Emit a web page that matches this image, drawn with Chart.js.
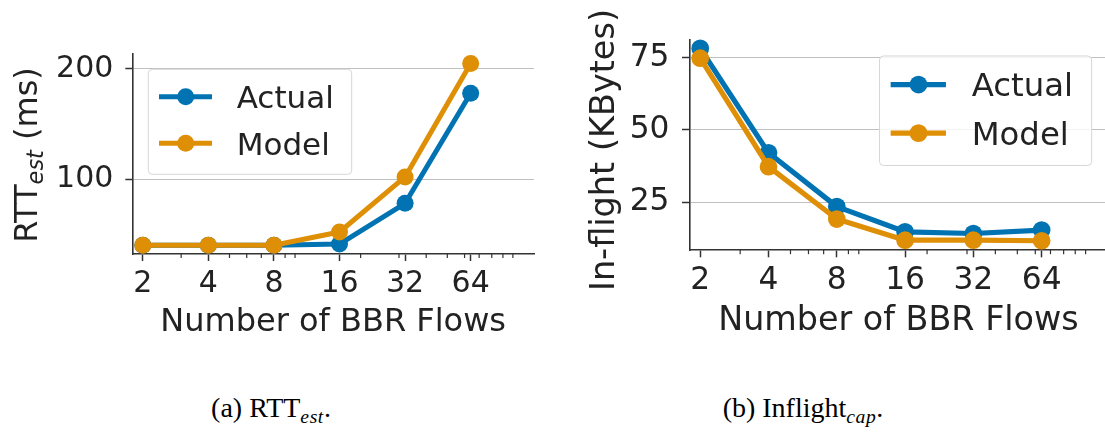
<!DOCTYPE html>
<html>
<head>
<meta charset="utf-8">
<script src="https://cdn.jsdelivr.net/npm/chart.js@4.4.0/dist/chart.umd.min.js"></script>
<style>
  html, body { margin: 0; padding: 0; background: #fff; overflow: hidden; width: 1105px; height: 441px; }
  .plot { position: absolute; top: 0; width: 560px; height: 360px; }
  #wrapA { left: 0; }
  #wrapB { left: 560px; }
  .caption { position: absolute; font-family: "Liberation Serif", serif; font-size: 28px; color: #000;
             white-space: nowrap; transform: translateX(-50%); line-height: 1; }
  .caption sub { font-style: italic; font-size: 70%; vertical-align: -0.3em; letter-spacing: 0.6px; }
</style>
</head>
<body>
<div id="wrapA" class="plot"><canvas id="rttChart" width="560" height="360"></canvas></div>
<div id="wrapB" class="plot"><canvas id="inflightChart" width="560" height="360"></canvas></div>
<div class="caption" style="left:271px; top:394px">(a) RTT<sub>est</sub>.</div>
<div class="caption" style="left:803px; top:394px">(b) Inflight<sub>cap</sub>.</div>

<script>
// valeurs
const flows = [2, 4, 8, 16, 32, 64];
const rttActual = [40, 40, 40, 41, 78, 178];
const rttModel = [40, 40, 40, 52, 102, 205];
const inflightActual = [78.2, 42.1, 23.5, 14.8, 14.2, 15.4];
const inflightModel = [74.8, 37.3, 19.2, 11.9, 11.9, 11.7];
const minorTicks = [3, 5, 6, 7, 9, 10, 20, 30, 40, 50, 60, 70, 80, 90, 100];
const rttTicks = [100, 200];
const inflightTicks = [25, 50, 75];

const BLUE = '#0173b2';
const ORANGE = '#de8f05';
const INK = '#222';
const SPINE = '#333';

// légende encadrée à la matplotlib
const boxLegend = {
    id: 'boxLegend',
    afterDraw(chart, args, o) {
        if (!o || !o.show) return;
        const ctx = chart.ctx, area = chart.chartArea, s = o.scale;
        const w = 203.4 * s, h = 105 * s;
        const x0 = o.side === 'right' ? area.right - 15.3 * s - w : area.left + 16 * s;
        const y0 = area.top + 15.3 * s;
        ctx.save();
        ctx.beginPath();
        ctx.roundRect(x0, y0, w, h, 4);
        ctx.fillStyle = 'rgba(255,255,255,0.8)';
        ctx.fill();
        ctx.strokeStyle = '#d6d6d6';
        ctx.lineWidth = 1;
        ctx.stroke();
        const rows = [27.4, 74];
        // dans l'ordre des labels
        chart.data.datasets.forEach((ds, i) => {
            const y = y0 + rows[i] * s;
            ctx.strokeStyle = ds.borderColor;
            ctx.lineWidth = ds.borderWidth;
            ctx.beginPath();
            ctx.moveTo(x0 + 10.7 * s, y);
            ctx.lineTo(x0 + 63.7 * s, y);
            ctx.stroke();
            ctx.fillStyle = ds.backgroundColor;
            ctx.beginPath();
            ctx.arc(x0 + 37.4 * s, y, ds.pointRadius, 0, Math.PI * 2);
            ctx.fill();
            ctx.fillStyle = INK;
            ctx.font = (31 * s) + 'px "DejaVu Sans"';
            ctx.textBaseline = 'alphabetic';
            ctx.textAlign = 'left';
            ctx.fillText(ds.label, x0 + 88.4 * s, y + 0.365 * 31 * s);
        });
        ctx.restore();
    }
};

// petits traits mineurs de l'axe log
const minorTickMarks = {
    id: 'minorTickMarks',
    afterDraw(chart, args, o) {
        const sc = chart.scales.x, ctx = chart.ctx;
        ctx.save();
        ctx.strokeStyle = SPINE;
        ctx.lineWidth = 1.2;
        minorTicks.forEach(v => {
            if (flows.includes(v)) return;
            const px = sc.getPixelForValue(v);
            ctx.beginPath();
            ctx.moveTo(px, chart.chartArea.bottom);
            ctx.lineTo(px, chart.chartArea.bottom + 4 * o.scale);
            ctx.stroke();
        });
        ctx.restore();
    }
};

// titre vertical avec indice en italique
const yTitle = {
    id: 'yTitle',
    afterDraw(chart, args, o) {
        if (!o || !o.parts) return;
        const ctx = chart.ctx, fs = o.size;
        ctx.save();
        ctx.translate(o.x, o.y);
        ctx.rotate(-Math.PI / 2);
        ctx.fillStyle = INK;
        ctx.textBaseline = 'alphabetic';
        ctx.textAlign = 'left';
        const fonts = o.parts.map(p => p.sub ? 'italic ' + (fs * 0.7) + 'px "DejaVu Sans"' : fs + 'px "DejaVu Sans"');
        let total = 0;
        o.parts.forEach((p, i) => { ctx.font = fonts[i]; total += ctx.measureText(p.text).width; });
        let x = -total / 2;
        const base = 0.365 * fs;
        o.parts.forEach((p, i) => {
            ctx.font = fonts[i];
            ctx.fillText(p.text, x, base + (p.sub ? 0.2 * fs : 0));
            x += ctx.measureText(p.text).width;
        });
        ctx.restore();
    }
};

function makeChart(id, actual, model, cfg) {
    const s = cfg.scale;
    const pts = arr => flows.map((f, i) => ({ x: f, y: arr[i] }));
    const line = (label, arr, color, order) => ({
        label: label,
        data: pts(arr),
        borderColor: color,
        backgroundColor: color,
        borderWidth: 5 * s,
        pointRadius: 8.5 * s,
        pointHoverRadius: 8.5 * s,
        pointBorderWidth: 0,
        borderJoinStyle: 'round',
        tension: 0,
        clip: false,
        order: order
    });
    return new Chart(document.getElementById(id), {
        type: 'line',
        data: {
            datasets: [
                line('Actual', actual, BLUE, 1),
                line('Model', model, ORANGE, 0)
            ]
        },
        plugins: [boxLegend, minorTickMarks, yTitle],
        options: {
            responsive: false,
            animation: false,
            layout: { padding: cfg.padding },
            scales: {
                x: {
                    type: 'logarithmic',
                    min: 1.79,
                    max: 125,
                    afterBuildTicks: sc => { sc.ticks = flows.map(v => ({ value: v, major: true })); },
                    afterFit: sc => { sc.height = cfg.xHeight; },
                    ticks: {
                        autoSkip: false, maxRotation: 0, minRotation: 0,
                        font: { family: 'DejaVu Sans', size: 30 * s },
                        color: INK,
                        padding: 5 * s,
                        callback: v => String(v)
                    },
                    grid: { display: true, drawOnChartArea: false, drawTicks: true, tickLength: 7 * s, tickColor: SPINE, tickWidth: 1.5 },
                    border: { display: true, color: SPINE, width: 1.6 },
                    title: {
                        display: true,
                        text: 'Number of BBR Flows',
                        font: { family: 'DejaVu Sans', size: 32 * s },
                        color: INK,
                        padding: { top: 0, bottom: cfg.titlePad }
                    }
                },
                y: {
                    min: cfg.yMin,
                    max: cfg.yMax,
                    afterBuildTicks: sc => { sc.ticks = cfg.yTicks.map(v => ({ value: v })); },
                    afterFit: sc => { sc.width = cfg.yWidth; },
                    ticks: { font: { family: 'DejaVu Sans', size: 30 * s }, color: INK, padding: 12 * s },
                    grid: { color: '#c0c0c0', lineWidth: 1, tickLength: 7 * s, tickColor: SPINE, tickWidth: 1.5 },
                    border: { display: true, color: SPINE, width: 1.6 }
                }
            },
            plugins: {
                legend: { display: false },
                tooltip: { enabled: false },
                boxLegend: { show: true, side: cfg.legendSide, scale: s },
                minorTickMarks: { scale: s },
                yTitle: cfg.yTitle
            }
        }
    });
}

const rttChart = makeChart('rttChart', rttActual, rttModel, {
    scale: 1,
    padding: { left: 0, top: 54, right: 26, bottom: 0 },
    xHeight: 106,
    yWidth: 132.3,
    yMin: 32, yMax: 213.6,
    yTicks: rttTicks,
    titlePad: 17.8,
    legendSide: 'left',
    yTitle: { x: 25, y: 155, size: 32, parts: [{ text: 'RTT' }, { text: 'est', sub: true }, { text: ' (ms)' }] }
});

const inflightChart = makeChart('inflightChart', inflightActual, inflightModel, {
    scale: 1.043,
    padding: { left: 0, top: 40, right: 12.4, bottom: 0 },
    xHeight: 110,
    yWidth: 129.3,
    yMin: 8.5, yMax: 81.1,
    yTicks: inflightTicks,
    titlePad: 18.4,
    legendSide: 'right',
    yTitle: { x: 41.7, y: 150, size: 33.5, parts: [{ text: 'In-flight (KBytes)' }] }
});
</script>
</body>
</html>
